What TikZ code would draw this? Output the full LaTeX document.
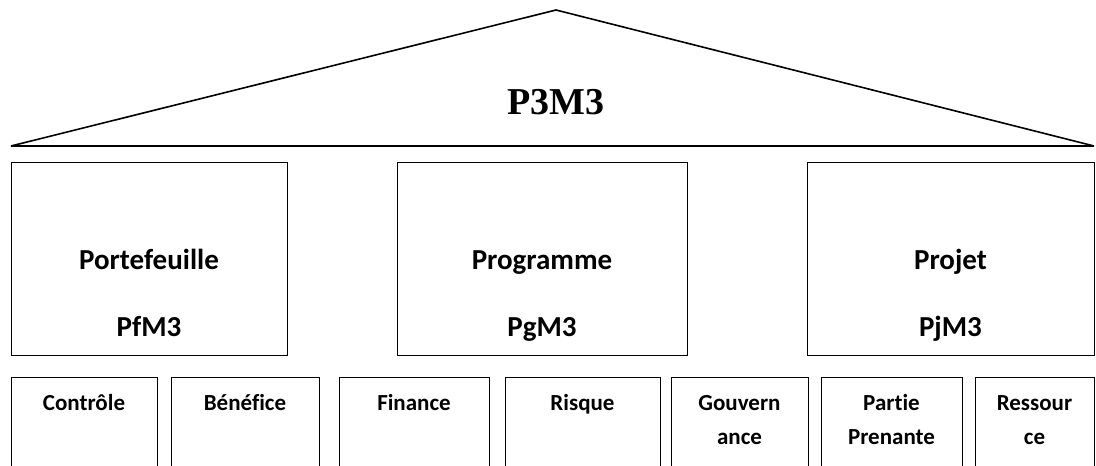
\documentclass[tikz,border=0pt]{standalone}
\usepackage{fontspec}
\setmainfont{Carlito}[Ligatures=NoCommon]
\newfontfamily\rooffont{Liberation Serif}

\begin{document}
\begin{tikzpicture}[x=1pt, y=-1pt,
	frame/.style={draw, line width=1.3pt, inner sep=0pt},
	bigtext/.style={anchor=base, font=\bfseries\fontsize{29}{34}\selectfont},
	smalltext/.style={anchor=base, font=\bfseries\fontsize{23}{34}\selectfont}]

	\def\roofbase{146}
	\def\bigtop{162}
	\def\bigbot{355}
	\def\smalltop{377}

	\useasboundingbox (0,0) rectangle (1096,466);
	\clip (0,0) rectangle (1096,466);

	% roof
	\coordinate (apex) at (556,10);
	\coordinate (eaveL) at (11,\roofbase);
	\coordinate (eaveR) at (1094,\roofbase);
	\draw[line width=1.6pt, line join=bevel] (eaveL) -- (apex) -- (eaveR) -- cycle;
	\node[anchor=base, font=\rooffont\bfseries\fontsize{38}{40}\selectfont] (p3m3) at (556,114) {P3M3};

	% pillars
	\foreach \name/\xa/\xb/\title/\model in {pf/11/287/Portefeuille/PfM3, pg/397/687/Programme/PgM3, pj/807/1094/Projet/PjM3} {
		\pgfmathsetmacro\w{\xb-\xa}
		\pgfmathsetmacro\h{\bigbot-\bigtop}
		\node[frame, anchor=north west, minimum width=\w pt, minimum height=\h pt] (\name) at (\xa,\bigtop) {};
		\node[bigtext] (\name-title) at ({(\xa+\xb)/2},269) {\title};
		\node[bigtext] (\name-model) at ({(\xa+\xb)/2},336) {\model};
	}

	% foundations (label split over two lines where needed)
	\foreach \name/\xa/\xb/\upper/\lower in {ctrl/11/157/Contrôle/, ben/171/319/Bénéfice/, fin/339/489/Finance/, risk/505/660/Risque/, gov/671/808/Gouvern/ance, stake/821/962/Partie/Prenante, res/975/1094/Ressour/ce} {
		\pgfmathsetmacro\w{\xb-\xa}
		\node[frame, anchor=north west, minimum width=\w pt, minimum height=120pt] (\name) at (\xa,\smalltop) {};
		\node[smalltext] (\name-upper) at ({(\xa+\xb)/2},410) {\upper};
		\node[smalltext] (\name-lower) at ({(\xa+\xb)/2},444) {\lower};
	}

\end{tikzpicture}
\end{document}
